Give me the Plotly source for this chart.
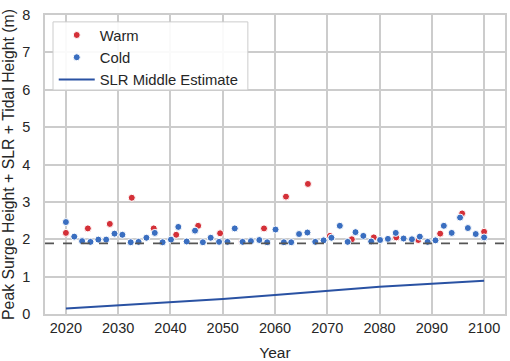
import plotly.graph_objects as go

cold_years = [2020.0, 2021.6, 2023.1, 2024.7, 2026.2, 2027.7, 2029.3, 2030.8, 2032.4, 2033.9,
              2035.4, 2037.0, 2038.5, 2040.1, 2041.5, 2043.1, 2044.7, 2046.2, 2047.7, 2049.3,
              2050.9, 2052.3, 2053.8, 2055.4, 2057.0, 2058.5, 2060.1, 2061.7, 2063.1, 2064.6,
              2066.2, 2067.7, 2069.3, 2070.8, 2072.4, 2073.9, 2075.4, 2076.9, 2078.4, 2080.1,
              2081.6, 2083.1, 2084.6, 2086.2, 2087.7, 2089.2, 2090.7, 2092.3, 2093.8, 2095.4,
              2096.9, 2098.4, 2100.0]
cold_values = [2.46, 2.07, 1.95, 1.93, 1.99, 1.99, 2.15, 2.12, 1.92, 1.93,
               2.04, 2.17, 1.92, 1.99, 2.33, 1.94, 2.23, 1.92, 2.04, 1.93,
               1.93, 2.29, 1.93, 1.95, 1.98, 1.92, 2.26, 1.92, 1.92, 2.14,
               2.18, 1.93, 1.97, 2.04, 2.36, 1.93, 2.19, 2.09, 1.94, 1.98,
               2.01, 2.17, 2.02, 2.00, 2.07, 1.93, 1.97, 2.36, 2.17, 2.58,
               2.30, 2.14, 2.05]

warm_years = [2020.0, 2024.2, 2028.4, 2032.6, 2036.8, 2041.1, 2045.3, 2049.5, 2053.7, 2057.9,
              2062.1, 2066.3, 2070.5, 2074.7, 2078.9, 2083.2, 2087.4, 2091.6, 2095.8, 2100.0]
warm_values = [2.17, 2.29, 2.41, 3.11, 2.29, 2.12, 2.36, 2.16, 1.93, 2.29,
               3.14, 3.48, 2.09, 2.00, 2.05, 2.05, 1.98, 2.15, 2.69, 2.20]

slr_years = [2020, 2030, 2040, 2050, 2060, 2070, 2080, 2090, 2100]
slr_values = [0.15, 0.23, 0.31, 0.40, 0.51, 0.62, 0.73, 0.81, 0.89]

threshold = 1.89
x_ticks = [2020, 2030, 2040, 2050, 2060, 2070, 2080, 2090, 2100]
y_ticks = [0, 1, 2, 3, 4, 5, 6, 7, 8]

RED = "#d43038"
BLUE = "#3a6ec0"
LINE = "#2a52a3"
GRID = "#cccccc"
TXT = "#262626"

fig = go.Figure()
fig.add_shape(type="line", xref="paper", yref="y", x0=0, x1=1, y0=threshold, y1=threshold,
              line=dict(color="#555555", width=1.8, dash="dash"), layer="above")
# legend frame
fig.add_shape(type="rect", xref="paper", yref="paper", x0=0.0174, x1=0.441, y0=0.749, y1=0.977,
              line=dict(color="#cccccc", width=1), fillcolor="rgba(255,255,255,0.9)", layer="above")
fig.add_trace(go.Scatter(x=warm_years, y=warm_values, mode="markers", name="Warm",
                         marker=dict(color=RED, size=7, line=dict(color="white", width=1))))
fig.add_trace(go.Scatter(x=cold_years, y=cold_values, mode="markers", name="Cold",
                         marker=dict(color=BLUE, size=7, line=dict(color="white", width=1))))
fig.add_trace(go.Scatter(x=slr_years, y=slr_values, mode="lines", name="SLR Middle Estimate",
                         line=dict(color=LINE, width=2)))

fig.update_layout(
    width=510, height=361,
    margin=dict(l=45, r=5, t=15, b=47),
    paper_bgcolor="white", plot_bgcolor="white",
    font=dict(family="Liberation Sans, Arial, sans-serif", size=14.5, color=TXT),
    showlegend=True,
    legend=dict(x=0.019, y=0.987, xanchor="left", yanchor="top",
                bgcolor="rgba(0,0,0,0)", borderwidth=0,
                font=dict(size=14.8, color=TXT), tracegroupgap=0, itemwidth=36),
    xaxis=dict(range=[2016, 2104], tickvals=x_ticks, showgrid=True, gridcolor=GRID, gridwidth=1.5,
               zeroline=False, showline=True, linecolor=GRID, linewidth=1.5, mirror=True,
               ticks="", tickfont=dict(size=14.5), automargin=False,
               title=dict(text="Year", font=dict(size=15.5), standoff=13)),
    yaxis=dict(range=[0, 8], tickvals=y_ticks, showgrid=True, gridcolor=GRID, gridwidth=1.5,
               zeroline=False, showline=True, linecolor=GRID, linewidth=1.5, mirror=True,
               ticks="outside", ticklen=10, tickcolor="rgba(0,0,0,0)", tickfont=dict(size=14.5),
               automargin=False,
               title=dict(text="Peak Surge Height + SLR + Tidal Height (m)", font=dict(size=15.8), standoff=6)),
)

fig.write_html("out.html", config={"displayModeBar": False},
               post_script="document.body.style.margin='0';")
